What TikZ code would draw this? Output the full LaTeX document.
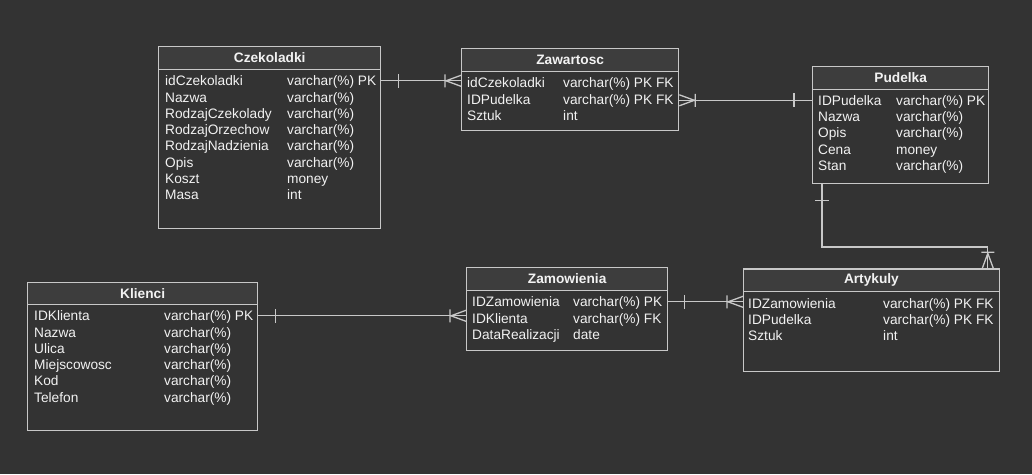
\documentclass[tikz,border=0pt]{standalone}
\usepackage{fontspec}
\setmainfont{Liberation Sans}
\usetikzlibrary{calc}

\definecolor{bg}{HTML}{333333}
\definecolor{headfill}{HTML}{3D3D3D}
\definecolor{edge}{HTML}{C8C8C8}
\definecolor{txt}{HTML}{F2F2F2}
\newcommand\rowfont{\fontsize{13.7}{16}\selectfont}

\tikzset{
  entity/.style={draw=edge, line width=1.3pt, anchor=north west, inner sep=0},
  entityhead/.style={draw=edge, fill=headfill, line width=1.3pt, anchor=north west,
    inner sep=0, minimum height=22.5, text=txt, font=\rowfont\bfseries},
  attr/.style={anchor=west, inner sep=0, text height=9.8pt, text depth=0pt,
    text=txt, font=\rowfont},
  conn/.style={draw=edge, line width=1.3pt},
  onebar/.pic={\draw[conn] (0,-7) -- (0,7);},
  crowfoot/.pic={\draw[conn] (0,-6.5) -- (0,6.5) (1,0) -- (16,-5.5) (1,0) -- (16,5.5);}
}

\begin{document}
\begin{tikzpicture}[x=1pt,y=-1pt]
  \fill[bg] (0,0) rectangle (1032,474);
  \useasboundingbox (0,0) rectangle (1032,474);

  % Czekoladki
  \node[entity, minimum width=222, minimum height=182] (czek) at (158,46) {};
  \node[entityhead, minimum width=222] (czek-h) at (czek.north west) {Czekoladki};
  \foreach \a/\t [count=\i] in {idCzekoladki/varchar(\%) PK, Nazwa/varchar(\%),
      RodzajCzekolady/varchar(\%), RodzajOrzechow/varchar(\%),
      RodzajNadzienia/varchar(\%), Opis/varchar(\%), Koszt/money, Masa/int}
    \node[attr] (czek-\i) at ($(czek-h.south west)+(7,11+16.3*\i-16.3)$) {\a}
      node[attr] at ($(czek-h.south west)+(129,11+16.3*\i-16.3)$) {\t};

  % Zawartosc
  \node[entity, minimum width=217, minimum height=82] (zaw) at (461,48) {};
  \node[entityhead, minimum width=217] (zaw-h) at (zaw.north west) {Zawartosc};
  \foreach \a/\t [count=\i] in {idCzekoladki/varchar(\%) PK FK,
      IDPudelka/varchar(\%) PK FK, Sztuk/int}
    \node[attr] (zaw-\i) at ($(zaw-h.south west)+(6,11+16.3*\i-16.3)$) {\a}
      node[attr] at ($(zaw-h.south west)+(102,11+16.3*\i-16.3)$) {\t};

  % Pudelka
  \node[entity, minimum width=176, minimum height=116.5] (pud) at (812,66) {};
  \node[entityhead, minimum width=176] (pud-h) at (pud.north west) {Pudelka};
  \foreach \a/\t [count=\i] in {IDPudelka/varchar(\%) PK, Nazwa/varchar(\%),
      Opis/varchar(\%), Cena/money, Stan/varchar(\%)}
    \node[attr] (pud-\i) at ($(pud-h.south west)+(6,10.5+16.3*\i-16.3)$) {\a}
      node[attr] at ($(pud-h.south west)+(84,10.5+16.3*\i-16.3)$) {\t};

  % Klienci
  \node[entity, minimum width=230, minimum height=148.5] (kli) at (27,281.5) {};
  \node[entityhead, minimum width=230] (kli-h) at (kli.north west) {Klienci};
  \foreach \a/\t [count=\i] in {IDKlienta/varchar(\%) PK, Nazwa/varchar(\%),
      Ulica/varchar(\%), Miejscowosc/varchar(\%), Kod/varchar(\%),
      Telefon/varchar(\%)}
    \node[attr] (kli-\i) at ($(kli-h.south west)+(7,10.5+16.3*\i-16.3)$) {\a}
      node[attr] at ($(kli-h.south west)+(137,10.5+16.3*\i-16.3)$) {\t};

  % Zamowienia
  \node[entity, minimum width=201, minimum height=82.5] (zam) at (466,267) {};
  \node[entityhead, minimum width=201] (zam-h) at (zam.north west) {Zamowienia};
  \foreach \a/\t [count=\i] in {IDZamowienia/varchar(\%) PK,
      IDKlienta/varchar(\%) FK, DataRealizacji/date}
    \node[attr] (zam-\i) at ($(zam-h.south west)+(6,11+16.3*\i-16.3)$) {\a}
      node[attr] at ($(zam-h.south west)+(107,11+16.3*\i-16.3)$) {\t};

  % Artykuly
  \node[entity, minimum width=255.5, minimum height=102.7] (art) at (743,268.3) {};
  \node[entityhead, minimum width=255.5] (art-h) at (art.north west) {Artykuly};
  \foreach \a/\t [count=\i] in {IDZamowienia/varchar(\%) PK FK,
      IDPudelka/varchar(\%) PK FK, Sztuk/int}
    \node[attr] (art-\i) at ($(art-h.south west)+(5,11+16.3*\i-16.3)$) {\a}
      node[attr] at ($(art-h.south west)+(140,11+16.3*\i-16.3)$) {\t};

  % relacje
  \draw[conn] (czek.east |- czek-1) -- (zaw.west |- czek-1);
  \pic at ($(czek.east |- czek-1)+(17,0)$) {onebar};
  \pic at ($(zaw.west |- czek-1)+(-16,0)$) {crowfoot};

  \draw[conn] (zaw.east |- pud-1) -- (pud.west |- pud-1);
  \pic[rotate=180] at ($(zaw.east |- pud-1)+(16,0)$) {crowfoot};
  \pic at ($(pud.west |- pud-1)+(-18,0)$) {onebar};

  \draw[conn] ($(pud.south west)+(10,0)$) |- ($(art.north east)+(-12,-21.3)$)
    -- ($(art.north east)+(-12,0)$);
  \pic[rotate=90] at ($(pud.south west)+(10,17)$) {onebar};
  \pic[rotate=-90] at ($(art.north east)+(-12,-16)$) {crowfoot};

  \draw[conn] (zam.east |- zam-1) -- (art.west |- zam-1);
  \pic at ($(zam.east |- zam-1)+(16,0)$) {onebar};
  \pic at ($(art.west |- zam-1)+(-16,0)$) {crowfoot};

  \draw[conn] (kli.east |- kli-1) -- (zam.west |- kli-1);
  \pic at ($(kli.east |- kli-1)+(17,0)$) {onebar};
  \pic at ($(zam.west |- kli-1)+(-16,0)$) {crowfoot};
\end{tikzpicture}
\end{document}
